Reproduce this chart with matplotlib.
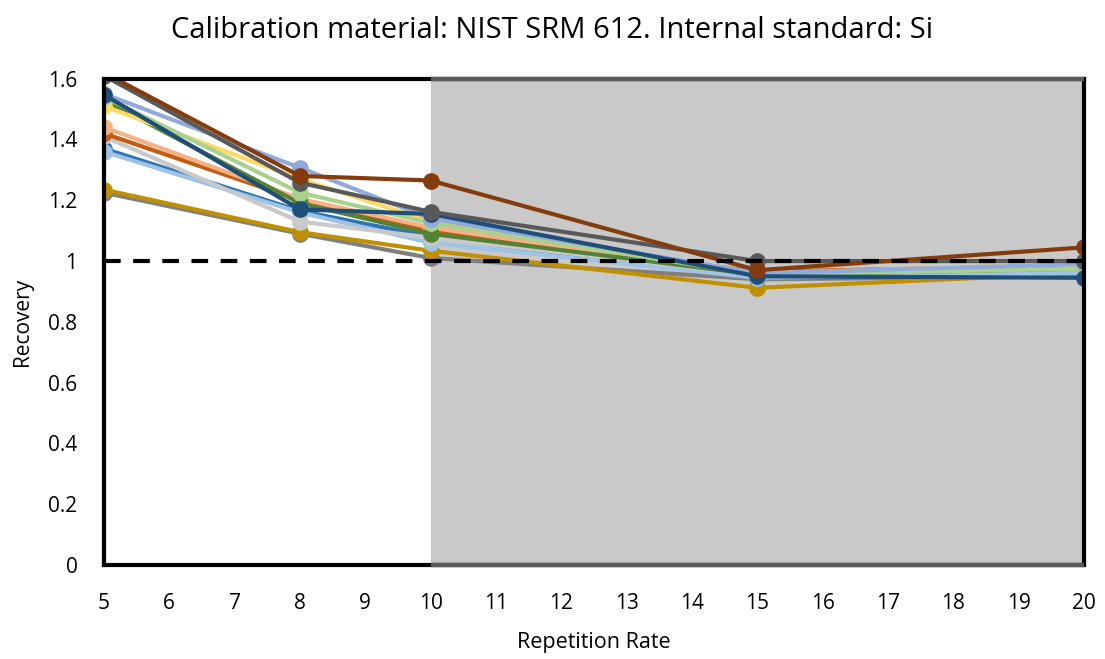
import matplotlib
matplotlib.use("Agg")
import matplotlib.pyplot as plt
from matplotlib.patches import Rectangle

plt.rcParams['font.family'] = ['Open Sans', 'DejaVu Sans']

rates = [5, 8, 10, 15, 20]
x_ticks = list(range(5, 21))
y_ticks = [0, 0.2, 0.4, 0.6, 0.8, 1.0, 1.2, 1.4, 1.6]
y_tick_labels = ['0', '0.2', '0.4', '0.6', '0.8', '1', '1.2', '1.4', '1.6']

series_colors = ['#7f7f7f', '#bf9000', '#2e75b6', '#9dc3e6', '#c9c9c9', '#c55a11',
                 '#f4b183', '#548235', '#ffd966', '#a9d18e', '#8faadc', '#1f4e79',
                 '#595959', '#843c0c']
series_values = [
    [1.225, 1.090, 1.010, 0.940, 0.950],
    [1.235, 1.095, 1.034, 0.912, 0.960],
    [1.370, 1.165, 1.080, 0.945, 0.955],
    [1.360, 1.160, 1.060, 0.945, 0.960],
    [1.410, 1.130, 1.077, 0.955, 0.990],
    [1.420, 1.200, 1.100, 0.965, 0.985],
    [1.440, 1.205, 1.110, 0.955, 0.980],
    [1.530, 1.190, 1.090, 0.955, 0.975],
    [1.510, 1.270, 1.130, 0.960, 0.990],
    [1.540, 1.225, 1.125, 0.955, 0.975],
    [1.550, 1.307, 1.140, 0.960, 0.990],
    [1.547, 1.170, 1.155, 0.950, 0.945],
    [1.610, 1.258, 1.162, 1.000, 1.000],
    [1.620, 1.280, 1.265, 0.970, 1.045],
]
reference_level = 1.0
shade_range = (10, 20)
y_max = 1.6

fig = plt.figure(figsize=(11.05, 6.59), dpi=100)
ax = fig.add_axes([0.094, 0.1426, 0.887, 0.738])
ax.set_xlim(5, 20)
ax.set_ylim(0, y_max)

rect = Rectangle((shade_range[0], 0), shade_range[1] - shade_range[0], y_max,
                 facecolor='#c9c9c9', edgecolor='none', zorder=0.5)
ax.add_patch(rect)
for yy in (0, y_max):
    ax.plot(shade_range, [yy, yy], color='#595959', linewidth=3.2,
            solid_capstyle='butt', zorder=5, clip_on=False)

for vals, c in zip(series_values, series_colors):
    ax.plot(rates, vals, color=c, linewidth=3, marker='o', markersize=11,
            zorder=3, clip_on=True)

ax.axhline(reference_level, color='black', linewidth=3, dashes=(4, 3), zorder=4)

for s in ax.spines.values():
    s.set_linewidth(3)
    s.set_color('black')
    s.set_zorder(4.5)

ax.set_xticks(x_ticks)
ax.set_yticks(y_ticks)
ax.set_yticklabels(y_tick_labels)
ax.tick_params(axis='both', length=0, labelsize=15, colors='black')
ax.tick_params(axis='x', pad=20)
ax.tick_params(axis='y', pad=19)

ax.set_xlabel('Repetition Rate', fontsize=15.5, labelpad=13)
ax.set_ylabel('Recovery', fontsize=15, labelpad=11)
fig.suptitle('Calibration material: NIST SRM 612. Internal standard: Si',
             fontsize=21, y=0.975)

fig.savefig('out.png', dpi=100)
